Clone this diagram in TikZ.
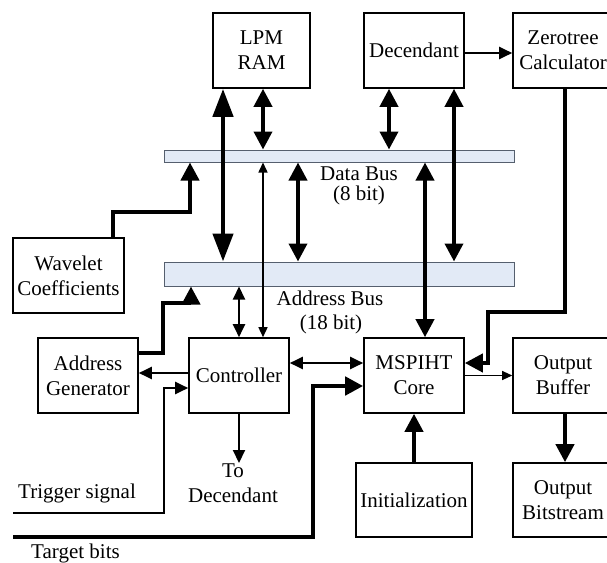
\documentclass[tikz,border=0pt]{standalone}
\usepackage{fontspec}
\setmainfont{Liberation Serif}
\usetikzlibrary{arrows.meta}
\definecolor{busfill}{RGB}{226,234,246}
\definecolor{busline}{RGB}{85,95,110}
\begin{document}
\begin{tikzpicture}[x=1pt,y=-1pt,
  blk/.style={draw, line width=1.6pt, fill=white, align=center, inner sep=0pt,
    font=\fontsize{21}{25}\selectfont},
  bus/.style={draw=busline, line width=1pt, fill=busfill, inner sep=0pt, minimum width=350pt},
  lbl/.style={font=\fontsize{21}{25}\selectfont, inner sep=0pt},
  bighead/.tip={Triangle[length=28pt,width=20pt]},
  medhead/.tip={Triangle[length=18pt,width=18pt]},
  smhead/.tip={Triangle[length=13pt,width=12pt]},
  tnhead/.tip={Triangle[length=10pt,width=9pt]},
  bigdbl/.style={line width=4.5pt, bighead-bighead},
  meddbl/.style={line width=3.8pt, medhead-medhead},
  medarr/.style={line width=4pt, -medhead},
  smdbl/.style={line width=2pt, smhead-smhead},
  smarr/.style={line width=2pt, -smhead},
  tndbl/.style={line width=1.5pt, tnhead-tnhead},
  tnarr/.style={line width=1.2pt, -tnhead}
]
\clip (0,0) rectangle (607,562);
\fill[white] (0,0) rectangle (607,562);

% blocks
\node[blk, minimum width=97pt, minimum height=75pt] (lpm) at (261.5,50.5) {LPM\\RAM};
\node[blk, minimum width=100pt, minimum height=75pt] (dec) at (414,50.5) {Decendant};
\node[blk, minimum width=100pt, minimum height=75pt] (zt) at (563,50.5) {Zerotree\\Calculator};
\node[blk, minimum width=111pt, minimum height=75pt] (wav) at (68.5,275.5) {Wavelet\\Coefficients};
\node[blk, minimum width=100pt, minimum height=75pt] (ag) at (88,375.5) {Address\\Generator};
\node[blk, minimum width=100pt, minimum height=75pt] (ctl) at (239,375.5) {Controller};
\node[blk, minimum width=100pt, minimum height=75pt] (core) at (414,375.5) {MSPIHT\\Core};
\node[blk, minimum width=100pt, minimum height=75pt] (ob) at (563,375.5) {Output\\Buffer};
\node[blk, minimum width=116pt, minimum height=74pt] (init) at (414,500) {Initialization};
\node[blk, minimum width=100pt, minimum height=74pt] (obs) at (563,500) {Output\\Bitstream};

% buses
\node[bus, minimum height=12pt] (dbus) at (339,156) {};
\node[bus, minimum height=24pt] (abus) at (339,274) {};

% labels
\node[lbl, anchor=base] (dl1) at (359,180) {Data Bus};
\node[lbl, anchor=base] (dl2) at (359,200) {(8 bit)};
\node[lbl, anchor=base] (al1) at (330,305) {Address Bus};
\node[lbl, anchor=base] (al2) at (331,329) {(18 bit)};
\node[lbl, anchor=base west] (trl) at (18,498) {Trigger signal};
\node[lbl, anchor=base] (tl1) at (233,477) {To};
\node[lbl, anchor=base] (tl2) at (233,502) {Decendant};
\node[lbl, anchor=base west] (tgl) at (31,558) {Target bits};

\coordinate (trig) at (13,513);
\coordinate (tgt) at (13,537);

% connectors
\draw[bigdbl] (223,0 |- lpm.south) -- (223,0 |- abus.north);
\draw[meddbl] (263,0 |- lpm.south) -- (263,0 |- dbus.north);
\draw[meddbl] (298,0 |- dbus.south) -- (298,0 |- abus.north);
\draw[meddbl] (389,0 |- dec.south) -- (389,0 |- dbus.north);
\draw[meddbl] (454,0 |- dec.south) -- (454,0 |- abus.north);
\draw[meddbl] (425,0 |- core.north) -- (425,0 |- dbus.south);
\draw[smarr] (dec.east |- 0,53) -- (zt.west |- 0,53);
\draw[medarr] (565,0 |- zt.south) -- (565,312) -- (488,312) -- (488,363) -- (core.east |- 0,363);
\draw[medarr] (113,0 |- wav.north) -- (113,212) -- (190,212) -- (190,0 |- dbus.south);
\draw[medarr] (ag.east |- 0,353) -- (163,353) -- (163,303) -- (191,303) -- (191,0 |- abus.south);
\draw[smdbl] (ctl.north) -- (ctl.north |- abus.south);
\draw[tndbl] (263,0 |- ctl.north) -- (263,0 |- dbus.south);
\draw[smarr] (ctl.west |- 0,373) -- (ag.east |- 0,373);
\draw[smarr] (trig) -- (164,513) -- (164,388) -- (ctl.west |- 0,388);
\draw[smarr] (ctl.south) -- (ctl.south |- 0,463);
\draw[smdbl] (ctl.east |- 0,363) -- (core.west |- 0,363);
\draw[medarr, line width=4.5pt] (tgt) -- (313,537) -- (313,386) -- (core.west |- 0,386);
\draw[tnarr] (core.east) -- (ob.west);
\draw[medarr] (init.north) -- (core.south);
\draw[medarr] (565,0 |- ob.south) -- (565,0 |- obs.north);
\end{tikzpicture}
\end{document}
